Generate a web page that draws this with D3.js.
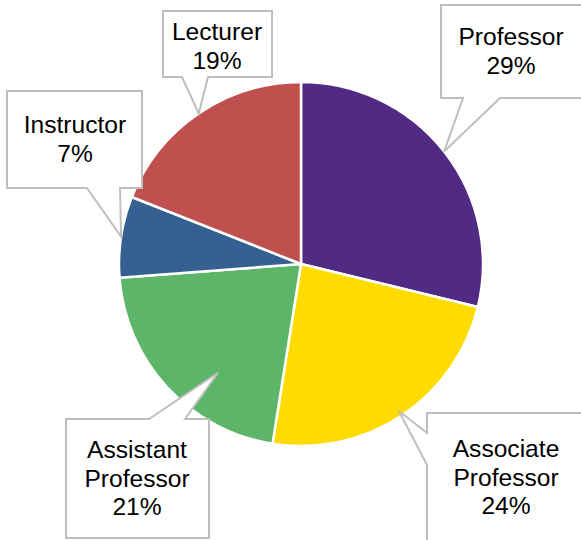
<!DOCTYPE html>
<html>
<head>
<meta charset="utf-8">
<script src="https://cdn.jsdelivr.net/npm/d3@7"></script>
<style>
  body { margin: 0; background: #fff; }
  svg { display: block; }
  text { font-family: "Liberation Sans", Arial, sans-serif; font-size: 24.6px; fill: #000; }
</style>
</head>
<body>
<svg></svg>
<script>
const categories = ["Professor", "Associate Professor", "Assistant Professor", "Instructor", "Lecturer"];
const values = [28.8, 23.7, 21.3, 7.2, 19.0];
const colors = ["#512A84", "#FFDB00", "#5DB56A", "#366092", "#C0504D"];
const labelLines = [["Professor"], ["Associate", "Professor"], ["Assistant", "Professor"], ["Instructor"], ["Lecturer"]];

const width = 581;
const height = 540;
const cx = 301, cy = 264, radius = 182;

// callout layout: box, side of pointer, pointer base, tip radius factor & angle offset, text anchor
const callouts = [
  { x0: 441, y0: 5, x1: 600, y1: 98, side: "bottom", b0: 463, b1: 500, rf: 1.0, da: 0, tx: 511, ty: 45 },
  { x0: 427, y0: 413, x1: 600, y1: 560, side: "left", b0: 433, b1: 465, rf: 0.97, da: 0, tx: 506, ty: 457 },
  { x0: 66, y0: 419, x1: 209, y1: 538, side: "top", b0: 149, b1: 185, rf: 0.75, da: -10, tx: 137, ty: 458 },
  { x0: 7, y0: 91, x1: 142, y1: 188, side: "bottom", b0: 87, b1: 120, rf: 1.0, da: 0, tx: 75, ty: 133 },
  { x0: 163, y0: 11, x1: 272, y1: 77, side: "bottom", b0: 182, b1: 208, rf: 1.0, da: 0, tx: 217, ty: 40 }
];

const svg = d3.select("svg").attr("width", width).attr("height", height);

const total = d3.sum(values);
const pie = d3.pie().sort(null).value((d) => d)(values);
const arc = d3.arc().innerRadius(0).outerRadius(radius);

const g = svg.append("g").attr("transform", `translate(${cx},${cy})`);

g.selectAll("path")
  .data(pie)
  .enter()
  .append("path")
  .attr("d", arc)
  .attr("fill", (d, i) => colors[i])
  .attr("stroke", "#fff")
  .attr("stroke-width", 2.5)
  .attr("stroke-linejoin", "round");

const calloutPath = (c, tip) => {
  const [tx, ty] = tip;
  if (c.side === "bottom") {
    return `M${c.x0},${c.y0}H${c.x1}V${c.y1}H${c.b1}L${tx},${ty}L${c.b0},${c.y1}H${c.x0}Z`;
  } else if (c.side === "top") {
    return `M${c.x0},${c.y0}H${c.b0}L${tx},${ty}L${c.b1},${c.y0}H${c.x1}V${c.y1}H${c.x0}Z`;
  } else {
    return `M${c.x0},${c.y0}H${c.x1}V${c.y1}H${c.x0}V${c.b1}L${tx},${ty}L${c.x0},${c.b0}Z`;
  }
};

const labels = svg.selectAll("g.callout")
  .data(pie)
  .enter()
  .append("g")
  .attr("class", "callout");

labels.append("path")
  .attr("d", (d, i) => {
    const c = callouts[i];
    const a = (d.startAngle + d.endAngle) / 2 + (c.da * Math.PI) / 180;
    const r = radius * c.rf;
    const tip = [cx + r * Math.sin(a), cy - r * Math.cos(a)];
    return calloutPath(c, tip);
  })
  .attr("fill", "#fff")
  .attr("stroke", "#BFBFBF")
  .attr("stroke-width", 2);

labels.each(function (d, i) {
  const c = callouts[i];
  const lines = labelLines[i].concat([Math.round((d.value / total) * 100) + "%"]);
  d3.select(this)
    .selectAll("text")
    .data(lines)
    .enter()
    .append("text")
    .attr("x", c.tx)
    .attr("y", (l, j) => c.ty + j * 28.5)
    .attr("text-anchor", "middle")
    .text((l) => l);
});
</script>
</body>
</html>
